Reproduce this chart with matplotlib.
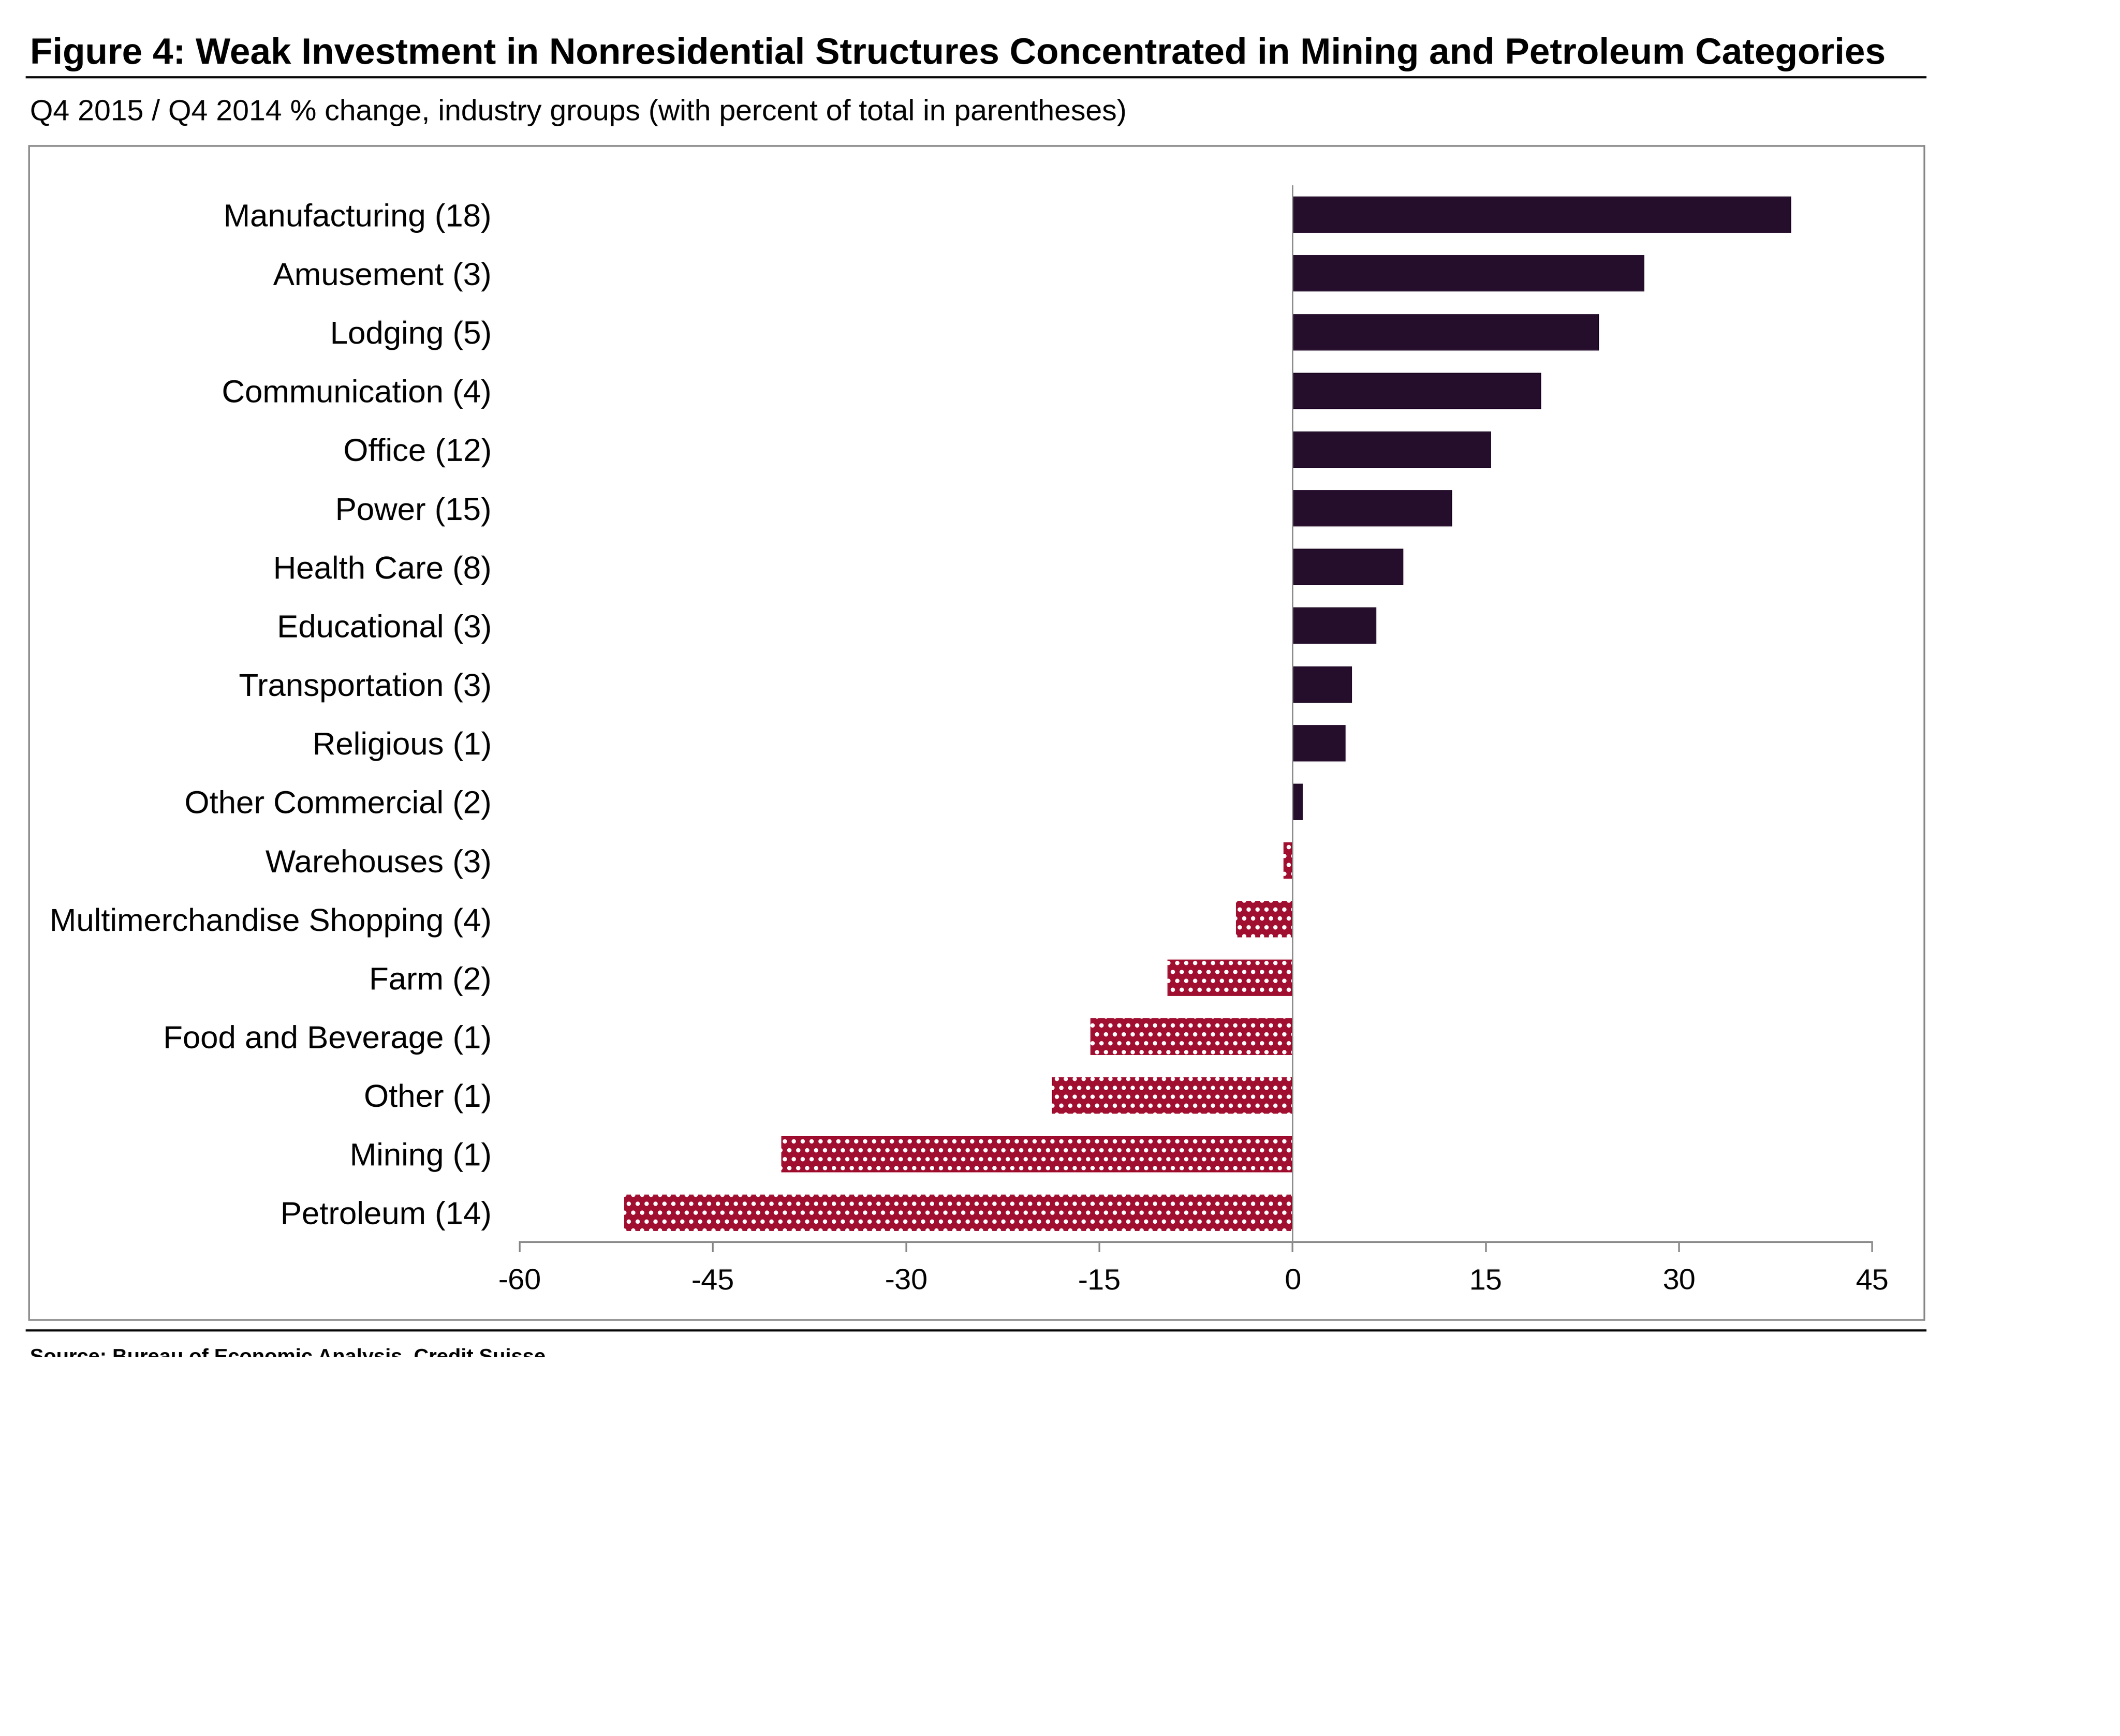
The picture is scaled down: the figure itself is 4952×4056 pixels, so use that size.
import numpy as np
import matplotlib
matplotlib.use("Agg")
import matplotlib.pyplot as plt
from matplotlib import font_manager
from matplotlib.patches import Rectangle
from matplotlib.lines import Line2D
from matplotlib.transforms import Bbox, TransformedBbox

categories = ['Manufacturing (18)', 'Amusement (3)', 'Lodging (5)', 'Communication (4)',
              'Office (12)', 'Power (15)', 'Health Care (8)', 'Educational (3)',
              'Transportation (3)', 'Religious (1)', 'Other Commercial (2)', 'Warehouses (3)',
              'Multimerchandise Shopping (4)', 'Farm (2)', 'Food and Beverage (1)',
              'Other (1)', 'Mining (1)', 'Petroleum (14)']
pct_change = [38.7, 27.3, 23.8, 19.3, 15.4, 12.4, 8.6, 6.5, 4.6, 4.1, 0.8,
              -0.7, -4.4, -9.7, -15.7, -18.7, -39.7, -51.9]
x_ticks = [-60, -45, -30, -15, 0, 15, 30, 45]

title = "Figure 4: Weak Investment in Nonresidential Structures Concentrated in Mining and Petroleum Categories"
subtitle = "Q4 2015 / Q4 2014 % change, industry groups (with percent of total in parentheses)"
source = "Source: Bureau of Economic Analysis, Credit Suisse"

POS_COLOR = '#250d2c'
NEG_COLOR = '#a00e30'
FRAME = '#8c8c8c'

DPI = 125
W, H = 4952, 4056


def pick_font():
    # narrow font if we have it, else regular Arial-like
    try:
        font_manager.findfont('Liberation Sans Narrow', fallback_to_default=False)
        return 'Liberation Sans Narrow', 1.19
    except Exception:
        return 'Liberation Sans', 1.0


def main():
    family, k = pick_font()
    plt.rcParams['font.family'] = [family, 'DejaVu Sans']
    plt.rcParams['hatch.color'] = 'white'
    plt.rcParams['hatch.linewidth'] = 3.4

    fig = plt.figure(figsize=(W / DPI, H / DPI), dpi=DPI)

    # titles
    fig.text(0.0141, 0.9633, title, fontsize=49.5 * k, fontweight='bold', va='baseline')
    fig.add_artist(Line2D([0.0125, 0.9081], [0.9556, 0.9556], color='black', lw=2.9))
    fig.text(0.0141, 0.9307, subtitle, fontsize=39.8 * k, va='baseline')

    # gray frame round the chart
    fig.add_artist(Rectangle((0.0137, 0.2396), 0.9077 - 0.0137, 0.9159 - 0.2396,
                             transform=fig.transFigure, fill=False, ec=FRAME, lw=2.3))
    fig.add_artist(Line2D([0.0125, 0.9081], [0.2337, 0.2337], color='black', lw=2.9))

    # source line, cut in half like the original
    src = fig.text(0.0141, 0.2234, source, fontsize=27.7 * k, fontweight='bold', va='top')
    src.set_clip_box(TransformedBbox(Bbox.from_extents(0, 0.2182, 1, 1), fig.transFigure))
    src.set_clip_on(True)

    ax = fig.add_axes([0.2452, 0.2845, 0.8831 - 0.2452, 0.8932 - 0.2845])
    y = np.arange(len(categories))
    vals = np.array(pct_change)
    pos = vals >= 0
    ax.barh(y[pos], vals[pos], height=0.62, color=POS_COLOR, lw=0)
    ax.barh(y[~pos], vals[~pos], height=0.62, color=NEG_COLOR, lw=0, hatch='.')
    ax.axvline(0, color=FRAME, lw=1.7, zorder=3)

    ax.set_ylim(len(categories) - 0.5, -0.5)
    ax.set_xlim(-60, 45)
    ax.set_xticks(x_ticks)
    ax.set_xticklabels([str(t) for t in x_ticks])
    ax.set_yticks(y)
    ax.set_yticklabels(categories)

    for s in ['top', 'right', 'left']:
        ax.spines[s].set_visible(False)
    ax.spines['bottom'].set_color(FRAME)
    ax.spines['bottom'].set_linewidth(2.3)

    ax.tick_params(axis='x', direction='out', length=13, width=2.3, color=FRAME,
                   pad=22, labelsize=40 * k)
    ax.tick_params(axis='y', length=0, pad=38, labelsize=43 * k)

    fig.savefig('out.png', dpi=DPI, facecolor='white')


if __name__ == "__main__":
    main()
